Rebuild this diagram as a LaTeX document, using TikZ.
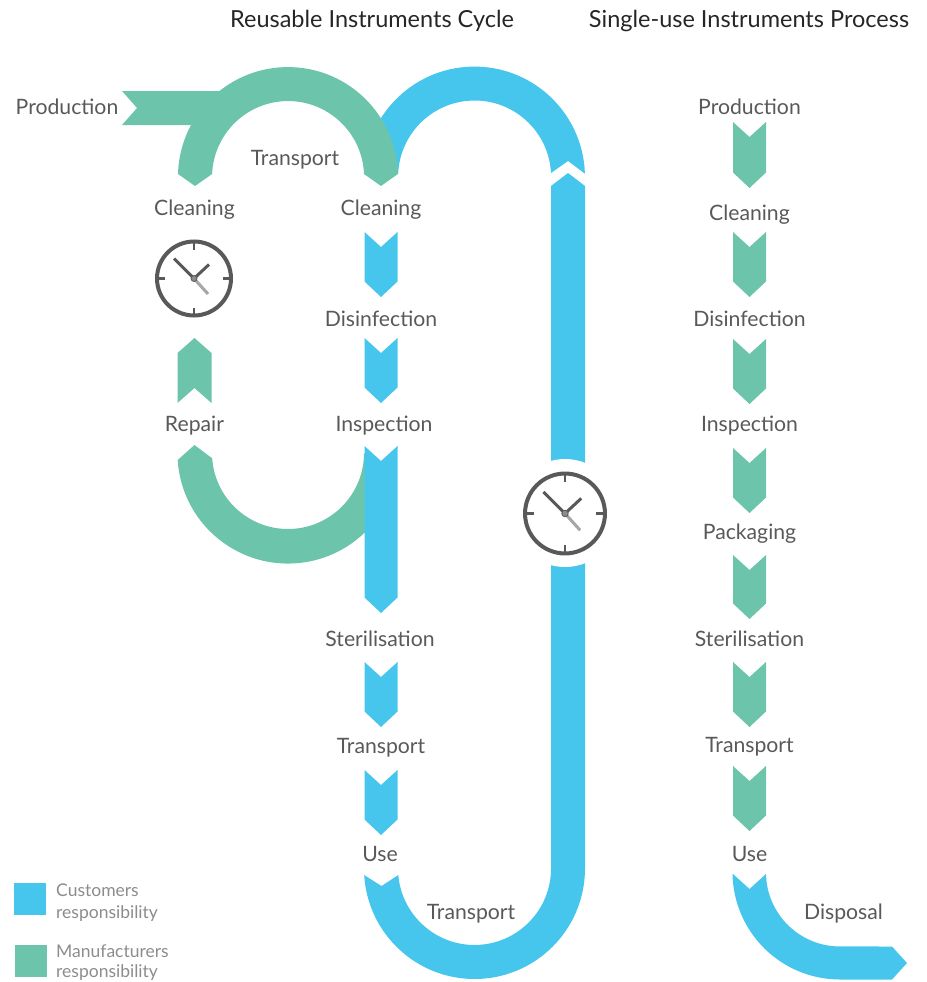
\documentclass[tikz,border=0pt]{standalone}
\usepackage{fontspec}
\setmainfont{Lato}
\definecolor{custblue}{HTML}{46C6ED}
\definecolor{manugreen}{HTML}{6CC5AB}
\definecolor{lbltext}{HTML}{58595B}
\definecolor{legtext}{HTML}{8A8C8E}
\tikzset{
    every picture/.append style={x=1pt, y=1pt},
    lbl/.style={text=lbltext, font=\fontsize{21.2}{24}\selectfont, inner sep=0pt,
    	text height=14pt, text depth=0pt},
    heading/.style={text=black!85, font=\fontsize{23.5}{28}\selectfont, inner sep=0pt,
    	text height=17pt, text depth=0pt},
    leglbl/.style={text=legtext, font=\fontsize{17.5}{22}\selectfont, inner sep=0pt,
    	align=left, anchor=north west},
    clockline/.style={draw=lbltext, line width=4pt},
    pics/clockface/.style={code={
    	\draw[clockline, fill=white] (0,0) circle (37pt);
    	\foreach \a in {0,90,180,270}
    		\draw[lbltext, line width=2.6pt] (\a:37) -- (\a:29);
    	\draw[lbltext, line width=3pt] (0,0) -- (-20,20);
    	\draw[lbltext, line width=3pt] (0,0) -- (15,14);
    	\draw[black!35, line width=3pt] (0,0) -- (14,-15.5);
    	\fill[black!45, draw=lbltext, line width=.8pt] (0,0) circle (3pt);
    }}
}
% chevrons: colour, centre x, top y, bottom y
\newcommand{\chevdown}[4]{\fill[#1] ({#2-16.5},-#3) -- (#2,{-#3-15}) -- ({#2+16.5},-#3)
	-- ({#2+16.5},{-#4+15.5}) -- (#2,-#4) -- ({#2-16.5},{-#4+15.5}) -- cycle;}

\begin{document}
\begin{tikzpicture}
	\useasboundingbox (0,0) rectangle (926,-982);

	% blue loop
	\fill[custblue] (364,-174) arc[start angle=178.4, end angle=1.8, radius=110.5pt]
		-- (568,-161) -- (551,-173) arc[start angle=3, end angle=177.7, radius=76.5pt] -- cycle;
	\fill[custblue] (551,-186) -- (568,-173) -- (585,-186) -- (585,-868.5)
		arc[start angle=0, end angle=-176.6, radius=110.5pt] -- (381.5,-886) -- (398.3,-875)
		arc[start angle=-175.1, end angle=0, radius=76.5pt] -- cycle;
	\fill[white] (565,-513) circle (54pt);
	\pic at (565,-513.5) [scale=1.08] {clockface};

	% green arcs
	\fill[manugreen] (122,-91) -- (219.4,-91) -- (191,-125) -- (122,-125) -- (137,-108) -- cycle;
	\fill[manugreen] (178,-174) arc[start angle=178.4, end angle=1.6, radius=110pt]
		-- (381,-186) -- (364,-174) arc[start angle=2.3, end angle=177.7, radius=76pt]
		-- (195,-186) -- cycle;
	\fill[manugreen] (177.7,-460) arc[start angle=183.6, end angle=326.4, radius=110.5pt]
		-- (380,-475) -- (364,-453) arc[start angle=0, end angle=-176, radius=76pt]
		-- (194.5,-445) -- cycle;

	% reusable cycle chevrons
	\chevdown{custblue}{381}{232}{297}
	\chevdown{custblue}{381}{338}{403}
	\chevdown{custblue}{381}{446}{613}
	\chevdown{custblue}{381}{662}{727}
	\chevdown{custblue}{381}{770}{835}
	\fill[manugreen] (177.5,-403) -- (194.5,-388) -- (211.5,-403) -- (211.5,-353)
		-- (194.5,-338) -- (177.5,-353) -- cycle;
	\pic at (194,-278.5) {clockface};

	% single-use process chevrons
	\chevdown{manugreen}{749.5}{122}{188}
	\chevdown{manugreen}{749.5}{232}{297}
	\chevdown{manugreen}{749.5}{339}{404}
	\chevdown{manugreen}{749.5}{448}{513}
	\chevdown{manugreen}{749.5}{555}{619}
	\chevdown{manugreen}{749.5}{662}{727}
	\chevdown{manugreen}{749.5}{766}{831}
	\fill[custblue] (733,-874) -- (749.5,-889) -- (766,-874)
		arc[start angle=181.2, end angle=270, radius=74pt] -- (892,-946.5) -- (907,-963)
		-- (892,-979.5) -- (840,-979.5) arc[start angle=270, end angle=181, radius=107.5pt] -- cycle;

	% legend
	\fill[custblue] (14,-883) rectangle (46,-915);
	\fill[manugreen] (15,-945) rectangle (47,-977);
	\node (custleg) [leglbl] at (56,-884) {Customers\\responsibility};
	\node (manuleg) [leglbl] at (56,-945) {Manufacturers\\[-2.5pt]responsibility};

	% headings
	\node (reuse) [heading] at (372,-19) {Reusable Instruments Cycle};
	\node (single) [heading] at (749,-19) {Single-use Instruments Process};

	% left column labels
	\node (prod1) [lbl] at (67,-107) {Production};
	\node (trans1) [lbl] at (295,-158) {Transport};
	\node (clean1) [lbl] at (194.5,-208) {Cleaning};
	\node (clean2) [lbl] at (381,-208) {Cleaning};
	\node (dis1) [lbl] at (381,-319) {Disinfection};
	\node (rep) [lbl] at (194.5,-424) {Repair};
	\node (ins1) [lbl] at (384,-424) {Inspection};
	\node (ster1) [lbl] at (380,-639) {Sterilisation};
	\node (trans2) [lbl] at (381,-746) {Transport};
	\node (use1) [lbl] at (380,-854) {Use};
	\node (trans3) [lbl] at (471,-912) {Transport};

	% right column labels
	\node (prod2) [lbl] at (749.5,-107) {Production};
	\node (clean3) [lbl] at (749.5,-213) {Cleaning};
	\node (dis2) [lbl] at (749.5,-319) {Disinfection};
	\node (ins2) [lbl] at (749.5,-424) {Inspection};
	\node (pack) [lbl] at (749.5,-532) {Packaging};
	\node (ster2) [lbl] at (749.5,-639) {Sterilisation};
	\node (trans4) [lbl] at (749.5,-745) {Transport};
	\node (use2) [lbl] at (749.5,-854) {Use};
	\node (disp) [lbl] at (843.5,-912) {Disposal};
\end{tikzpicture}
\end{document}
